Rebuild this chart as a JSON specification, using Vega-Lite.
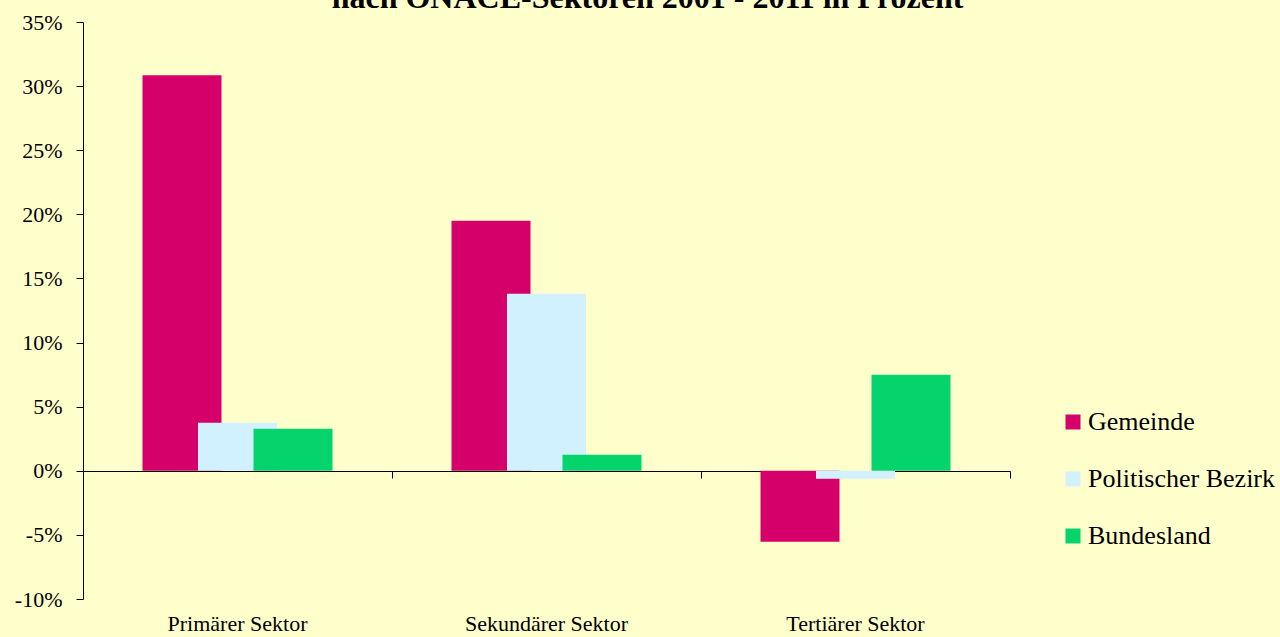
{
  "$schema": "https://vega.github.io/schema/vega-lite/v6.json",
  "autosize": "none",
  "width": 927,
  "height": 577,
  "padding": {"left": 83, "top": 22, "right": 270, "bottom": 38},
  "background": "#FFFFCC",
  "title": {
    "text": "nach ÖNACE-Sektoren 2001 - 2011 in Prozent",
    "font": "Liberation Serif",
    "fontSize": 32,
    "fontWeight": "bold",
    "color": "#000000",
    "anchor": "middle",
    "baseline": "alphabetic",
    "offset": -29,
    "dx": 101
  },
  "data": {
    "values": [
      {"Sektor": "Primärer Sektor", "Gebiet": "Gemeinde", "Wert": 30.85},
      {"Sektor": "Primärer Sektor", "Gebiet": "Politischer Bezirk", "Wert": 3.74},
      {"Sektor": "Primärer Sektor", "Gebiet": "Bundesland", "Wert": 3.27},
      {"Sektor": "Sekundärer Sektor", "Gebiet": "Gemeinde", "Wert": 19.49},
      {"Sektor": "Sekundärer Sektor", "Gebiet": "Politischer Bezirk", "Wert": 13.8},
      {"Sektor": "Sekundärer Sektor", "Gebiet": "Bundesland", "Wert": 1.25},
      {"Sektor": "Tertiärer Sektor", "Gebiet": "Gemeinde", "Wert": -5.53},
      {"Sektor": "Tertiärer Sektor", "Gebiet": "Politischer Bezirk", "Wert": -0.62},
      {"Sektor": "Tertiärer Sektor", "Gebiet": "Bundesland", "Wert": 7.48}
    ]
  },
  "layer": [
    {
      "mark": {"type": "bar", "width": 79},
      "encoding": {
        "x": {
          "field": "Sektor",
          "type": "nominal",
          "sort": null,
          "scale": {"paddingInner": 0, "paddingOuter": 0},
          "axis": {
            "orient": "bottom",
            "title": null,
            "domain": false,
            "ticks": false,
            "labelAngle": 0,
            "labelFont": "Liberation Serif",
            "labelFontSize": 22,
            "labelColor": "#000000",
            "labelPadding": 14
          }
        },
        "xOffset": {
          "field": "Gebiet",
          "type": "nominal",
          "sort": null,
          "scale": {"paddingInner": 0, "paddingOuter": 0, "range": [71.25, 237.75]}
        },
        "y": {
          "field": "Wert",
          "type": "quantitative",
          "scale": {"domain": [-10, 35], "nice": false, "zero": false},
          "axis": {
            "title": null,
            "values": [-10, -5, 0, 5, 10, 15, 20, 25, 30, 35],
            "labelExpr": "datum.value + '%'",
            "grid": false,
            "domainColor": "#000000",
            "tickColor": "#000000",
            "tickSize": 7,
            "labelFont": "Liberation Serif",
            "labelFontSize": 22,
            "labelColor": "#000000",
            "labelPadding": 14
          }
        },
        "color": {
          "field": "Gebiet",
          "type": "nominal",
          "sort": null,
          "scale": {
            "domain": ["Gemeinde", "Politischer Bezirk", "Bundesland"],
            "range": ["#D5006A", "#D2F1FF", "#05D46C"]
          },
          "legend": {
            "title": null,
            "orient": "none",
            "legendX": 977,
            "legendY": 387,
            "padding": 0,
            "symbolType": "square",
            "symbolSize": 225,
            "symbolStrokeWidth": 0,
            "labelFont": "Liberation Serif",
            "labelFontSize": 26,
            "labelColor": "#000000",
            "labelOffset": 2,
            "rowPadding": 31,
            "labelLimit": 300
          }
        }
      }
    },
    {
      "mark": {"type": "point", "opacity": 0},
      "encoding": {
        "x": {
          "field": "Sektor",
          "type": "nominal",
          "sort": null,
          "axis": {
            "orient": "bottom",
            "offset": -128,
            "title": null,
            "labels": false,
            "domain": true,
            "domainColor": "#000000",
            "ticks": true,
            "tickBand": "extent",
            "tickColor": "#000000",
            "tickSize": 7
          }
        },
        "y": {"datum": 0, "type": "quantitative"}
      }
    }
  ],
  "resolve": {"axis": {"x": "independent"}},
  "config": {
    "view": {"stroke": null},
    "font": "Liberation Serif"
  }
}
